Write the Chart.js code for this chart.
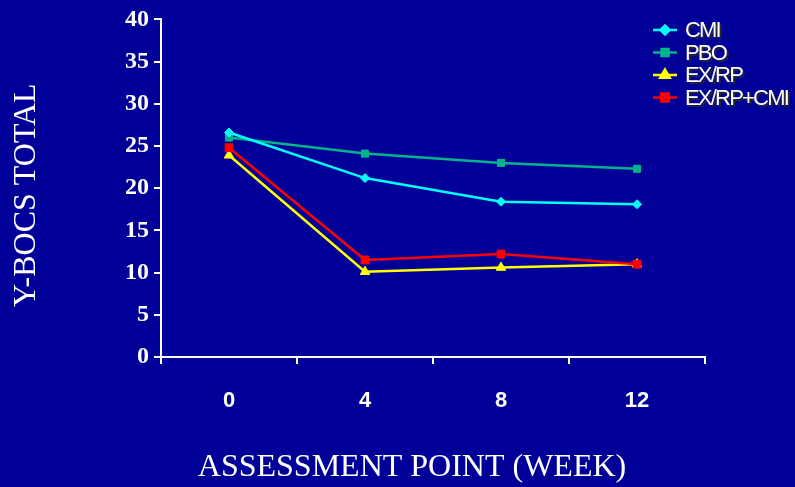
<!DOCTYPE html>
<html>
<head>
<meta charset="utf-8">
<script src="https://cdn.jsdelivr.net/npm/chart.js@4.4.1/dist/chart.umd.min.js"></script>
<style>
  html, body { margin: 0; padding: 0; background: #000099; }
  #wrap { width: 795px; height: 487px; }
</style>
</head>
<body>
<div id="wrap"><canvas id="chart" width="795" height="487"></canvas></div>
<script>
  // assessment points (weeks)
  var weeks = ['0', '4', '8', '12'];

  // Y-BOCS totals
  var cmi     = [26.6, 21.2, 18.4, 18.1];
  var pbo     = [26.0, 24.1, 23.0, 22.3];
  var exrp    = [23.9, 10.1, 10.6, 11.0];
  var exrpCmi = [24.8, 11.5, 12.2, 11.0];

  var yMin = 0, yMax = 40, yStep = 5;

  var WHITE = '#ffffff';

  function series(label, values, color, style, radius, order) {
    return {
      label: label,
      data: values,
      borderColor: color,
      backgroundColor: color,
      pointBackgroundColor: color,
      pointBorderColor: color,
      pointStyle: style,
      pointRadius: radius,
      pointBorderWidth: 1,
      borderWidth: 2.5,
      tension: 0,
      order: order
    };
  }

  // legend drawn by hand so it can sit over the plot, top right
  var boxLegend = {
    id: 'boxLegend',
    afterDraw: function(chart, args, opts) {
      var ctx = chart.ctx;
      ctx.save();
      chart.data.datasets.forEach(function(ds, i) {
        var y = opts.y + i * opts.gap;
        ctx.strokeStyle = ds.borderColor;
        ctx.lineWidth = 2.5;
        ctx.beginPath();
        ctx.moveTo(opts.x, y);
        ctx.lineTo(opts.x + opts.lineLen, y);
        ctx.stroke();
        ctx.fillStyle = ds.borderColor;
        ctx.strokeStyle = ds.borderColor;
        Chart.helpers.drawPoint(ctx, {
          pointStyle: ds.pointStyle, radius: ds.pointRadius, rotation: 0, borderWidth: 1
        }, opts.x + opts.lineLen / 2, y);

        ctx.font = opts.font;
        ctx.letterSpacing = opts.spacing;
        ctx.textBaseline = 'middle';
        ctx.textAlign = 'left';
        ctx.shadowColor = 'rgba(40,40,40,0.9)';
        ctx.shadowOffsetX = 2;
        ctx.shadowOffsetY = 2;
        ctx.shadowBlur = 0;
        ctx.fillStyle = WHITE;
        ctx.fillText(ds.label, opts.x + opts.lineLen + 8, y + 1);
        ctx.shadowColor = 'transparent';
        ctx.letterSpacing = '0px';
      });
      ctx.restore();
    }
  };

  // axis titles (x title sits left of plot centre in the original)
  var axisTitles = {
    id: 'axisTitles',
    afterDraw: function(chart, args, opts) {
      var ctx = chart.ctx, area = chart.chartArea;
      ctx.save();
      ctx.fillStyle = WHITE;
      ctx.font = opts.font;
      ctx.textAlign = 'center';
      ctx.textBaseline = 'middle';
      ctx.fillText(opts.xText, (area.left + area.right) / 2 + opts.xShift, opts.xY);
      ctx.translate(opts.yX, (area.top + area.bottom) / 2 + opts.yShift);
      ctx.rotate(-Math.PI / 2);
      ctx.fillText(opts.yText, 0, 0);
      ctx.restore();
    }
  };

  new Chart(document.getElementById('chart'), {
    type: 'line',
    data: {
      labels: weeks,
      datasets: [
        series('CMI', cmi, '#00ffff', 'rectRot', 4.5, 1),
        series('PBO', pbo, '#00b48c', 'rect', 5, 2),
        series('EX/RP', exrp, '#ffff00', 'triangle', 5.5, 4),
        series('EX/RP+CMI', exrpCmi, '#ff0000', 'rect', 5.5, 3)
      ]
    },
    options: {
      responsive: false,
      animation: false,
      devicePixelRatio: 1,
      layout: { padding: { left: 0, right: 90, top: 18, bottom: 0 } },
      plugins: {
        legend: { display: false },
        tooltip: { enabled: false },
        boxLegend: { x: 653, y: 30, gap: 22.5, lineLen: 24, spacing: '-1.8px',
                     font: '22px "Liberation Sans", Arial, sans-serif' },
        axisTitles: {
          font: '32px "Liberation Serif", "Times New Roman", serif',
          xText: 'ASSESSMENT POINT (WEEK)', xY: 468, xShift: -21,
          yText: 'Y-BOCS TOTAL', yX: 27, yShift: 7
        }
      },
      scales: {
        x: {
          type: 'category',
          offset: true,
          afterFit: function(s) { s.height = 130; },
          grid: { display: true, offset: true, drawOnChartArea: false, drawTicks: true,
                  tickLength: 7, color: WHITE, lineWidth: 2 },
          border: { display: true, color: WHITE, width: 2 },
          ticks: { color: WHITE, padding: 24,
                   font: { family: '"Liberation Sans", Arial, sans-serif', size: 22, weight: 'bold' } }
        },
        y: {
          min: yMin,
          max: yMax,
          afterFit: function(s) { s.width = 161; },
          grid: { display: true, drawOnChartArea: false, drawTicks: true,
                  tickLength: 7, color: WHITE, lineWidth: 2 },
          border: { display: true, color: WHITE, width: 2 },
          ticks: { stepSize: yStep, color: WHITE, padding: 5,
                   font: { family: '"Liberation Serif", "Times New Roman", serif', size: 24, weight: 'bold' } }
        }
      }
    },
    plugins: [boxLegend, axisTitles]
  });
</script>
</body>
</html>
